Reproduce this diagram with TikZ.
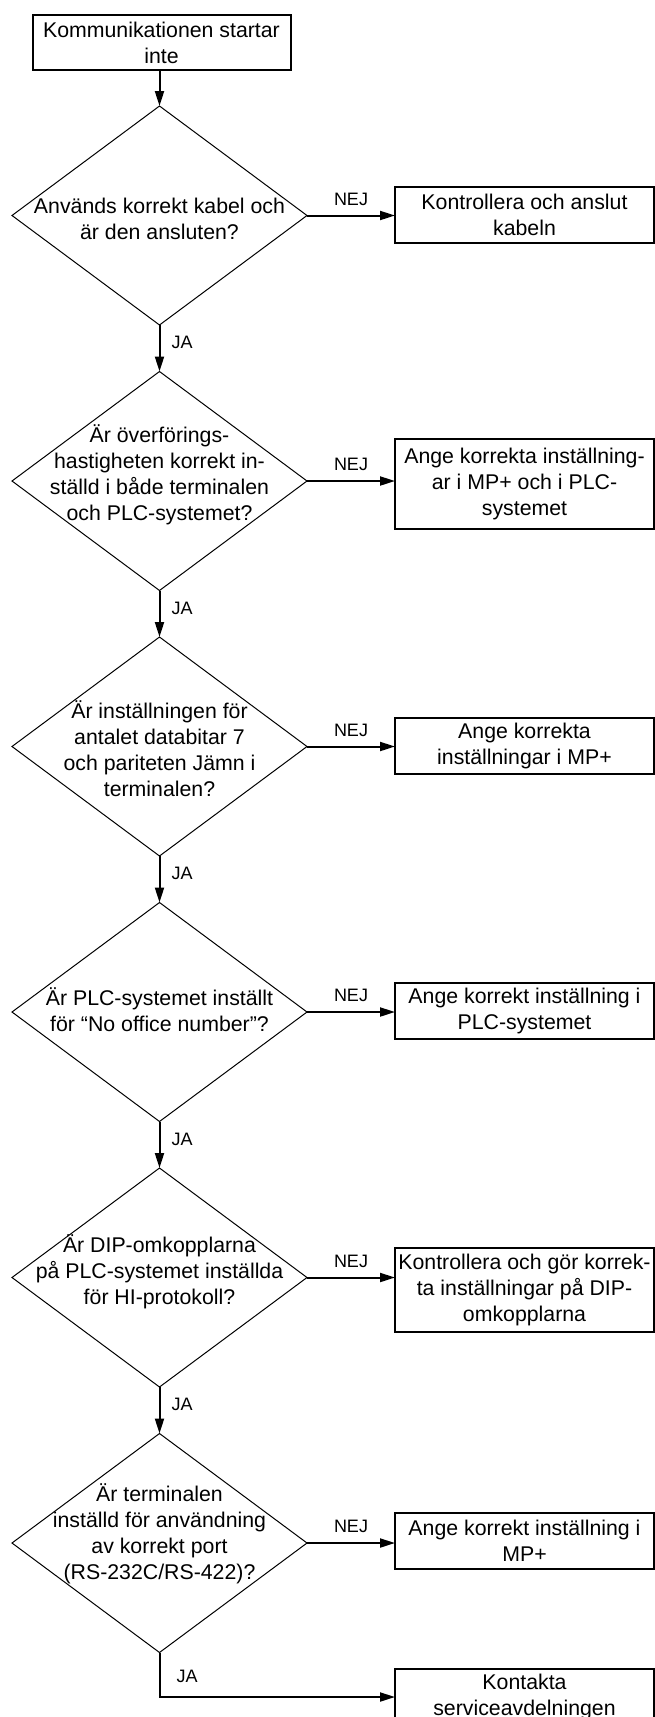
\documentclass[tikz,border=0pt]{standalone}
\usepackage{fontspec}
\setmainfont{Liberation Sans}
\usetikzlibrary{shapes.geometric,arrows.meta}
\newcommand\mainsz{\fontsize{21.3pt}{26pt}\selectfont}
\newcommand\lblsz{\fontsize{18pt}{22pt}\selectfont}
\begin{document}
\begin{tikzpicture}[x=1pt,y=-1pt,
  box/.style={draw, line width=2pt, rectangle, minimum width=259pt, minimum height=56pt, align=center, inner sep=0pt, outer sep=0pt, font=\mainsz},
  decision/.style={draw, line width=1pt, diamond, minimum width=295pt, minimum height=219pt, inner sep=0pt, outer sep=0pt},
  qtext/.style={align=center, inner sep=0pt, font=\mainsz},
  flow/.style={line width=2pt, -{Triangle[length=15pt,width=9pt]}},
  nej/.style={above=9pt, inner sep=0pt, font=\lblsz},
  ja/.style={right=11pt, inner sep=0pt, pos=0.38, font=\lblsz},
  jalast/.style={right=16pt, inner sep=0pt, pos=0.54, font=\lblsz}]
\useasboundingbox (0,0) rectangle (655,1717);
\fill[white] (0,0) rectangle (655,1717);
\clip (0,0) rectangle (655,1717);

\node[box, minimum width=258pt, minimum height=55pt] (start) at (161.5,42.5) {Kommunikationen startar\\inte};

\node[decision] (d1) at (159.5,215.5) {};
\node[qtext] (t1) at (159.5,219) {Används korrekt kabel och\\är den ansluten?};
\node[box] (b1) at (524.5,214.5) {Kontrollera och anslut\\kabeln};

\node[decision] (d2) at (159.5,481) {};
\node[qtext] (t2) at (159.5,475) {Är överförings-\\hastigheten korrekt in-\\ställd i både terminalen\\och PLC-systemet?};
\node[box, minimum height=90pt] (b2) at (524.5,484) {Ange korrekta inställning-\\ar i MP+ och i PLC-\\systemet};

\node[decision] (d3) at (159.5,746.5) {};
\node[qtext] (t3) at (159.5,749) {Är inställningen för\\antalet databitar 7\\och pariteten Jämn i\\terminalen?};
\node[box] (b3) at (524.5,745.5) {Ange korrekta\\inställningar i MP+};

\node[decision] (d4) at (159.5,1012) {};
\node[qtext] (t4) at (159.5,1010) {Är PLC-systemet inställt\\för “No office number”?};
\node[box] (b4) at (524.5,1010.5) {Ange korrekt inställning i\\PLC-systemet};

\node[decision] (d5) at (159.5,1277.5) {};
\node[qtext] (t5) at (159.5,1272) {Är DIP-omkopplarna\\på PLC-systemet inställda\\för HI-protokoll?};
\node[box, minimum height=84pt] (b5) at (524.5,1289.7) {Kontrollera och gör korrek-\\ta inställningar på DIP-\\omkopplarna};

\node[decision] (d6) at (159.5,1543) {};
\node[qtext] (t6) at (159.5,1534) {Är terminalen\\inställd för användning\\av korrekt port\\(RS-232C/RS-422)?};
\node[box] (b6) at (524.5,1541) {Ange korrekt inställning i\\MP+};

\node[box] (b7) at (524.5,1697) {Kontakta\\serviceavdelningen};

\draw[flow] (start.south -| d1.north) -- (d1.north);
\draw[flow] (d1.east) -- node[nej]{NEJ} (d1.east -| b1.west);
\draw[flow] (d1.south) -- node[ja]{JA} (d2.north);
\draw[flow] (d2.east) -- node[nej]{NEJ} (d2.east -| b2.west);
\draw[flow] (d2.south) -- node[ja]{JA} (d3.north);
\draw[flow] (d3.east) -- node[nej]{NEJ} (d3.east -| b3.west);
\draw[flow] (d3.south) -- node[ja]{JA} (d4.north);
\draw[flow] (d4.east) -- node[nej]{NEJ} (d4.east -| b4.west);
\draw[flow] (d4.south) -- node[ja]{JA} (d5.north);
\draw[flow] (d5.east) -- node[nej]{NEJ} (d5.east -| b5.west);
\draw[flow] (d5.south) -- node[ja]{JA} (d6.north);
\draw[flow] (d6.east) -- node[nej]{NEJ} (d6.east -| b6.west);
\draw[flow] (d6.south) -- node[jalast]{JA} (d6.south |- b7.west) -- (b7.west);
\end{tikzpicture}
\end{document}
